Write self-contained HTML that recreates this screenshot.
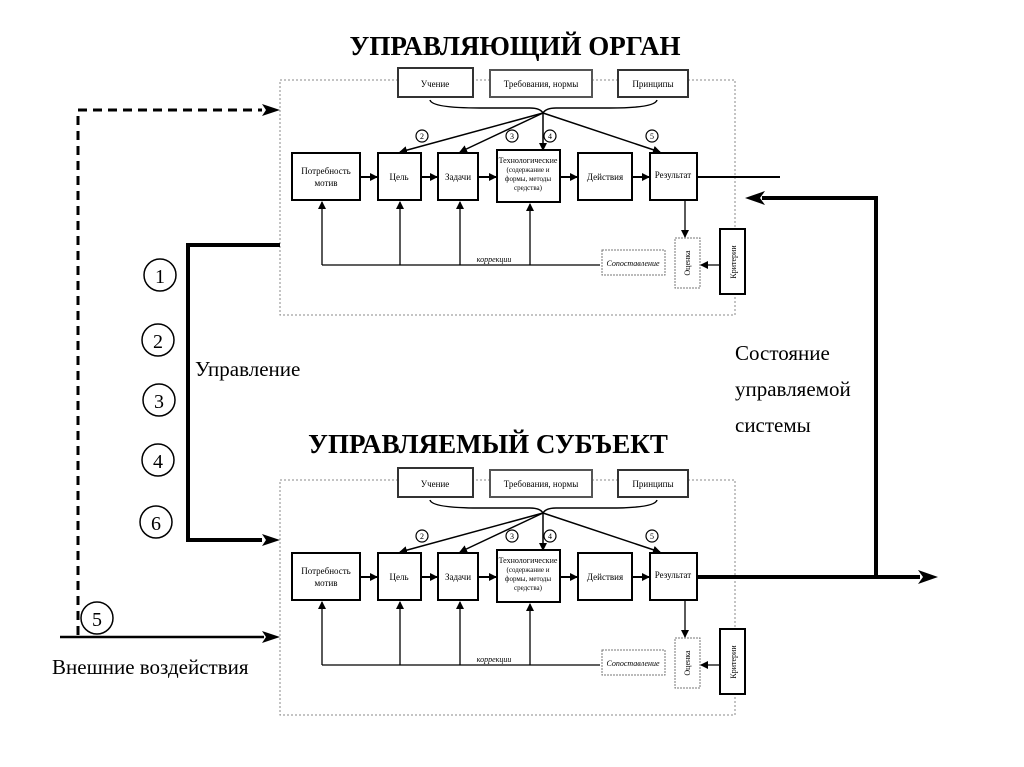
<!DOCTYPE html>
<html><head><meta charset="utf-8"><style>
html,body{margin:0;padding:0;background:#fff;width:1024px;height:767px;overflow:hidden}
svg{display:block}
text{font-family:"Liberation Serif",serif;fill:#000}
</style></head><body>
<svg width="1024" height="767" viewBox="0 0 1024 767" xmlns="http://www.w3.org/2000/svg">
<defs>
<marker id="a" markerWidth="8" markerHeight="8" refX="7" refY="4" orient="auto" markerUnits="userSpaceOnUse"><path d="M0,0 L8,4 L0,8 Z" fill="#000"/></marker>
<marker id="b" markerWidth="18" markerHeight="12" refX="16" refY="6" orient="auto" markerUnits="userSpaceOnUse"><path d="M0,0 L18,6 L0,12 L5,6 Z" fill="#000"/></marker>
<g id="blk">
<rect x="280" y="80" width="455" height="235" fill="none" stroke="#888" stroke-width="1" stroke-dasharray="2,2"/>
<rect x="398" y="68" width="75" height="29" fill="#fff" stroke="#333" stroke-width="2"/>
<rect x="490" y="70" width="102" height="27" fill="#fff" stroke="#555" stroke-width="2"/>
<rect x="618" y="70" width="70" height="27" fill="#fff" stroke="#333" stroke-width="2"/>
<text x="435" y="87" font-size="9" text-anchor="middle">Учение</text>
<text x="541" y="87" font-size="9" text-anchor="middle">Требования, нормы</text>
<text x="653" y="87" font-size="9" text-anchor="middle">Принципы</text>
<path d="M430,100 Q432,108 480,108 L530,108 Q540,108 543,113 Q546,108 556,108 L610,108 Q655,108 657,100" fill="none" stroke="#000" stroke-width="1.5"/>
<g stroke="#000" stroke-width="1.5" fill="none">
<line x1="543" y1="113" x2="400" y2="152" marker-end="url(#a)"/>
<line x1="543" y1="113" x2="460" y2="152" marker-end="url(#a)"/>
<line x1="543" y1="113" x2="543" y2="150" marker-end="url(#a)"/>
<line x1="543" y1="113" x2="660" y2="152" marker-end="url(#a)"/>
</g>
<g fill="#fff" stroke="#000" stroke-width="1.2">
<circle cx="422" cy="136" r="6"/><circle cx="512" cy="136" r="6"/><circle cx="550" cy="136" r="6"/><circle cx="652" cy="136" r="6"/>
</g>
<g font-size="8" text-anchor="middle"><text x="422" y="139">2</text><text x="512" y="139">3</text><text x="550" y="139">4</text><text x="652" y="139">5</text></g>
<g fill="#fff" stroke="#000" stroke-width="2">
<rect x="292" y="153" width="68" height="47"/><rect x="378" y="153" width="43" height="47"/><rect x="438" y="153" width="40" height="47"/>
<rect x="497" y="150" width="63" height="52"/><rect x="578" y="153" width="54" height="47"/><rect x="650" y="153" width="47" height="47"/>
</g>
<g font-size="9" text-anchor="middle">
<text x="326" y="174">Потребность</text><text x="326" y="186">мотив</text>
<text x="399" y="180">Цель</text><text x="458" y="180">Задачи</text>
<text x="528" y="163" font-size="8">Технологические</text><text x="528" y="172" font-size="7">(содержание и</text><text x="528" y="181" font-size="7">формы, методы</text><text x="528" y="190" font-size="7">средства)</text>
<text x="605" y="180">Действия</text><text x="673" y="178">Результат</text>
</g>
<g stroke="#000" stroke-width="2" fill="none">
<line x1="360" y1="177" x2="377" y2="177" marker-end="url(#a)"/>
<line x1="421" y1="177" x2="437" y2="177" marker-end="url(#a)"/>
<line x1="478" y1="177" x2="496" y2="177" marker-end="url(#a)"/>
<line x1="560" y1="177" x2="577" y2="177" marker-end="url(#a)"/>
<line x1="632" y1="177" x2="649" y2="177" marker-end="url(#a)"/>
</g>
<g stroke="#000" stroke-width="1.3" fill="none">
<polyline points="600,265 322,265"/>
<line x1="322" y1="265" x2="322" y2="202" marker-end="url(#a)"/>
<line x1="400" y1="265" x2="400" y2="202" marker-end="url(#a)"/>
<line x1="460" y1="265" x2="460" y2="202" marker-end="url(#a)"/>
<line x1="530" y1="265" x2="530" y2="204" marker-end="url(#a)"/>
<line x1="685" y1="200" x2="685" y2="237" marker-end="url(#a)"/>
<line x1="719" y1="265" x2="701" y2="265" marker-end="url(#a)"/>
</g>
<text x="494" y="262" font-size="8" font-style="italic" text-anchor="middle">коррекции</text>
<rect x="602" y="250" width="63" height="25" fill="#fff" stroke="#777" stroke-dasharray="2,1"/>
<text x="633" y="266" font-size="8" font-style="italic" text-anchor="middle">Сопоставление</text>
<rect x="675" y="238" width="25" height="50" fill="#fff" stroke="#777" stroke-dasharray="2,1"/>
<text transform="translate(690,263) rotate(-90)" font-size="8" text-anchor="middle">Оценка</text>
<rect x="720" y="229" width="25" height="65" fill="#fff" stroke="#000" stroke-width="2"/>
<text transform="translate(736,262) rotate(-90)" font-size="8" text-anchor="middle">Критерии</text>
</g>
</defs>
<text x="515" y="55" font-size="27" font-weight="bold" text-anchor="middle">УПРАВЛЯЮЩИЙ ОРГАН</text>
<text x="488" y="453" font-size="27" font-weight="bold" text-anchor="middle">УПРАВЛЯЕМЫЙ СУБЪЕКТ</text>
<use href="#blk"/>
<use href="#blk" transform="translate(0,400)"/>
<line x1="697" y1="177" x2="780" y2="177" stroke="#000" stroke-width="2"/>
<!-- left thick -->
<polyline points="280,245 188,245 188,540 262,540" fill="none" stroke="#000" stroke-width="4"/>
<path d="M280,540 L262,534 L266,540 L262,546 Z"/>
<!-- dashed -->
<polyline points="78,635 78,110 262,110" fill="none" stroke="#000" stroke-width="3" stroke-dasharray="9,6"/>
<path d="M280,110 L262,104 L266,110 L262,116 Z"/>
<line x1="60" y1="637" x2="264" y2="637" stroke="#000" stroke-width="2.5"/>
<path d="M280,637 L262,631 L266,637 L262,643 Z"/>
<!-- right thick -->
<line x1="697" y1="577" x2="920" y2="577" stroke="#000" stroke-width="4"/>
<path d="M938,577 L918,570 L923,577 L918,584 Z"/>
<polyline points="876,577 876,198 762,198" fill="none" stroke="#000" stroke-width="4"/>
<path d="M745,198 L765,191 L760,198 L765,205 Z"/>
<g fill="#fff" stroke="#000" stroke-width="1.5">
<circle cx="160" cy="275" r="16"/><circle cx="158" cy="340" r="16"/><circle cx="159" cy="400" r="16"/><circle cx="158" cy="460" r="16"/><circle cx="156" cy="522" r="16"/><circle cx="97" cy="618" r="16"/>
</g>
<g font-size="20" text-anchor="middle" style="font-family:'Liberation Sans',sans-serif">
<text x="160" y="283">1</text><text x="158" y="348">2</text><text x="159" y="408">3</text><text x="158" y="468">4</text><text x="156" y="530">6</text><text x="97" y="626">5</text>
</g>
<text x="195" y="376" font-size="21">Управление</text>
<text x="52" y="674" font-size="21">Внешние воздействия</text>
<text x="735" y="360" font-size="21">Состояние</text>
<text x="735" y="396" font-size="21">управляемой</text>
<text x="735" y="432" font-size="21">системы</text>
</svg>
</body></html>
